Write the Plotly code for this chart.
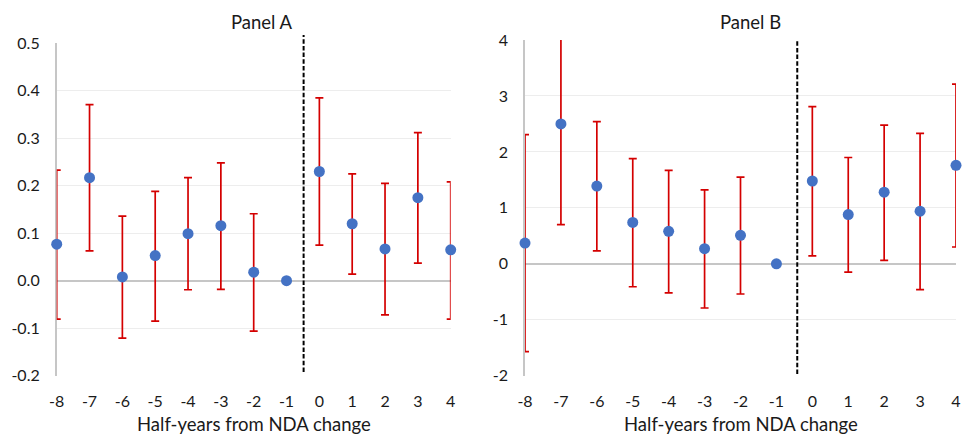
import plotly.graph_objects as go

# ---- data ----
periods = [-8, -7, -6, -5, -4, -3, -2, -1, 0, 1, 2, 3, 4]
period_labels = ["-8", "-7", "-6", "-5", "-4", "-3", "-2", "-1", "0", "1", "2", "3", "4"]

a_est = [0.077, 0.217, 0.008, 0.053, 0.099, 0.116, 0.018, 0.0, 0.230, 0.120, 0.067, 0.175, 0.065]
a_upper = [0.233, 0.371, 0.136, 0.188, 0.217, 0.248, 0.141, None, 0.385, 0.225, 0.205, 0.312, 0.208]
a_lower = [-0.081, 0.063, -0.121, -0.085, -0.019, -0.018, -0.106, None, 0.075, 0.014, -0.072, 0.037, -0.081]

b_est = [0.37, 2.50, 1.39, 0.74, 0.58, 0.27, 0.51, 0.0, 1.48, 0.88, 1.28, 0.94, 1.76]
b_upper = [2.31, 4.30, 2.54, 1.88, 1.67, 1.32, 1.55, None, 2.81, 1.90, 2.48, 2.33, 3.21]
b_lower = [-1.57, 0.70, 0.23, -0.41, -0.52, -0.79, -0.54, None, 0.14, -0.15, 0.06, -0.46, 0.30]

a_ticks = [-0.2, -0.1, 0.0, 0.1, 0.2, 0.3, 0.4, 0.5]
a_ticklabels = ["-0.2", "-0.1", "0.0", "0.1", "0.2", "0.3", "0.4", "0.5"]
b_ticks = [-2, -1, 0, 1, 2, 3, 4]
b_ticklabels = ["-2", "-1", "0", "1", "2", "3", "4"]

titles = ["Panel A", "Panel B"]
x_title = "Half-years from NDA change"

# ---- style ----
W, H = 969, 438
FONT = "Lato"
BLUE = "#4472C4"
RED = "#D40000"
GRID = "#EDEDED"
AXIS = "#C6C6C6"
TXT = "#1a1a1a"


def err(est, up, lo):
    plus = [(u - e) if u is not None else 0 for e, u in zip(est, up)]
    minus = [(e - l) if l is not None else 0 for e, l in zip(est, lo)]
    return plus, minus


fig = go.Figure()

x_min, x_max = periods[0], periods[-1]
panels = [
    (a_est, a_upper, a_lower, "x", "y"),
    (b_est, b_upper, b_lower, "x2", "y2"),
]
for est, up, lo, xa, ya in panels:
    plus, minus = err(est, up, lo)
    # inner points: error bars clipped to the plot area (long bar at -7 in Panel B)
    # edge points: error bars drawn unclipped so the whole bar shows on the axis edge
    for edge in (False, True):
        idx = [i for i, p in enumerate(periods) if (p in (x_min, x_max)) == edge]
        fig.add_trace(go.Scatter(
            x=[periods[i] for i in idx], y=[est[i] for i in idx],
            xaxis=xa, yaxis=ya, mode="markers",
            marker=dict(size=1, opacity=0),
            error_y=dict(type="data", symmetric=False,
                         array=[plus[i] for i in idx],
                         arrayminus=[minus[i] for i in idx],
                         color=RED, thickness=1.7, width=4),
            cliponaxis=not edge, showlegend=False, hoverinfo="skip",
        ))
    fig.add_trace(go.Scatter(
        x=periods, y=est, xaxis=xa, yaxis=ya, mode="markers",
        marker=dict(size=11, color=BLUE),
        cliponaxis=False, showlegend=False,
    ))


def px_x(p):
    return p / W


def px_y(p):
    return 1 - p / H


xdomA = [px_x(56.7), px_x(450.7)]
xdomB = [px_x(525), px_x(956)]
ydomA = [px_y(375.7), px_y(43.3)]
ydomB = [px_y(375.7), px_y(40)]

tickfont = dict(family=FONT, size=16, color=TXT)
xcommon = dict(range=[x_min, x_max], tickvals=periods, ticktext=period_labels,
               showgrid=False, zeroline=False, showline=False, ticks="",
               tickfont=tickfont, ticklabelstandoff=14, automargin=False,
               fixedrange=True)
ycommon = dict(showgrid=True, gridcolor=GRID, gridwidth=1.2,
               zeroline=True, zerolinecolor=AXIS, zerolinewidth=1.6,
               showline=True, linecolor=AXIS, linewidth=1.6, ticks="",
               ticklabelstandoff=12, tickfont=tickfont, automargin=False,
               layer="below traces", fixedrange=True)
fig.update_layout(
    width=W, height=H,
    margin=dict(l=0, r=0, t=0, b=0, autoexpand=False),
    paper_bgcolor="white", plot_bgcolor="white",
    font=dict(family=FONT, size=16, color=TXT),
    xaxis=dict(domain=xdomA, anchor="y", **xcommon),
    xaxis2=dict(domain=xdomB, anchor="y2", **xcommon),
    yaxis=dict(domain=ydomA, anchor="x", range=[-0.2, 0.5], tickvals=a_ticks,
               ticktext=a_ticklabels, **ycommon),
    yaxis2=dict(domain=ydomB, anchor="x2", range=[-2, 4], tickvals=b_ticks,
                ticktext=b_ticklabels, **ycommon),
)

# dashed separator lines
dash_line = dict(color="black", width=2, dash="4.5px,2.2px")
fig.add_shape(type="line", xref="x", yref="paper", x0=-0.48, x1=-0.48,
              y0=px_y(372), y1=px_y(35), line=dash_line)
fig.add_shape(type="line", xref="x2", yref="paper", x0=-0.42, x1=-0.42,
              y0=px_y(374), y1=px_y(39), line=dash_line)

# titles
title_font = dict(family=FONT, size=18.5, color=TXT)
fig.add_annotation(text=titles[0], x=px_x(261.7), y=px_y(21.7), xref="paper", yref="paper",
                   showarrow=False, xanchor="center", yanchor="middle", font=title_font)
fig.add_annotation(text=titles[1], x=px_x(750.5), y=px_y(21.7), xref="paper", yref="paper",
                   showarrow=False, xanchor="center", yanchor="middle", font=title_font)
fig.add_annotation(text=x_title, x=px_x(253.7), y=px_y(424), xref="paper", yref="paper",
                   showarrow=False, xanchor="center", yanchor="middle", font=title_font)
fig.add_annotation(text=x_title, x=px_x(740.5), y=px_y(424), xref="paper", yref="paper",
                   showarrow=False, xanchor="center", yanchor="middle", font=title_font)

fig.write_html("out.html", config={"displayModeBar": False},
               post_script="document.body.style.margin='0';document.body.style.overflow='hidden';")
